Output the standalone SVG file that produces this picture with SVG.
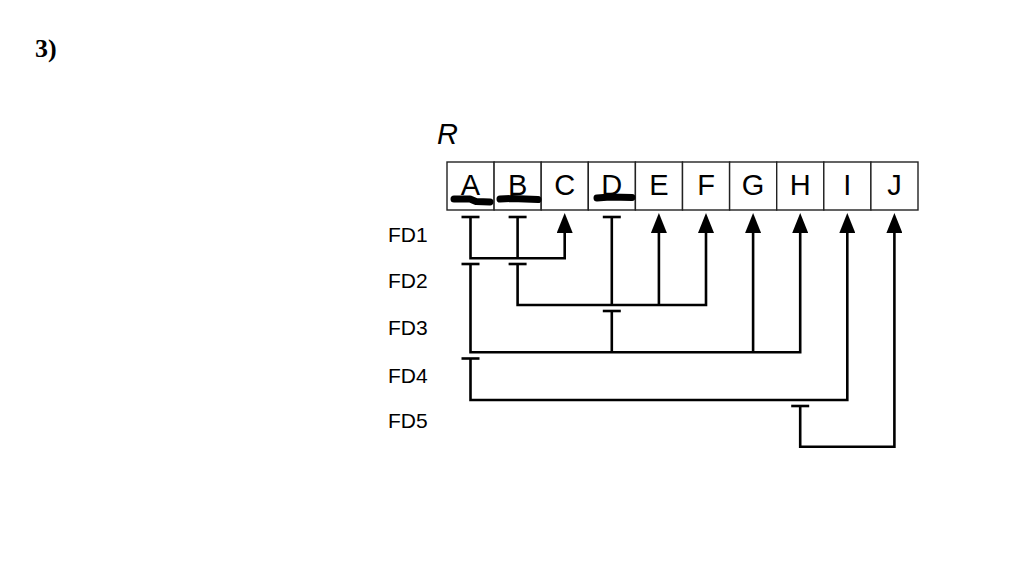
<svg xmlns="http://www.w3.org/2000/svg" width="1026" height="564" viewBox="0 0 1026 564">
<style>
.cell{fill:#fff;stroke:#222;stroke-width:1.4}
.attr{font-family:"Liberation Sans",Arial,sans-serif;font-size:29px;text-anchor:middle;fill:#000}
.fd{font-family:"Liberation Sans",Arial,sans-serif;font-size:21px;fill:#000}
.ln{fill:none;stroke:#000;stroke-width:2.6;stroke-linejoin:miter}
.tb{stroke:#000;stroke-width:2.6}
.ul{fill:none;stroke:#000;stroke-width:7;stroke-linecap:round;stroke-linejoin:round}
</style>
<defs>
<marker id="ah" viewBox="0 0 20 16" refX="0" refY="8" markerWidth="20" markerHeight="16" markerUnits="userSpaceOnUse" orient="auto">
<path d="M0 0 L20 8 L0 16 Z" fill="#000"/>
</marker>
</defs>
<rect width="1026" height="564" fill="#fff"/>
<text x="35" y="57" font-family="Liberation Serif,'Times New Roman',serif" font-size="26" font-weight="bold">3)</text>
<text x="437" y="144" font-family="Liberation Sans,Arial,sans-serif" font-size="29" font-style="italic">R</text>
<g id="relation">
<rect class="cell" x="447" y="162" width="47.1" height="48"/>
<rect class="cell" x="494.1" y="162" width="47.1" height="48"/>
<rect class="cell" x="541.2" y="162" width="47.1" height="48"/>
<rect class="cell" x="588.3" y="162" width="47.1" height="48"/>
<rect class="cell" x="635.4" y="162" width="47.1" height="48"/>
<rect class="cell" x="682.5" y="162" width="47.1" height="48"/>
<rect class="cell" x="729.6" y="162" width="47.1" height="48"/>
<rect class="cell" x="776.7" y="162" width="47.1" height="48"/>
<rect class="cell" x="823.8" y="162" width="47.1" height="48"/>
<rect class="cell" x="870.9" y="162" width="47.1" height="48"/>
<text class="attr" x="470.5" y="195">A</text>
<text class="attr" x="517.6" y="195">B</text>
<text class="attr" x="564.7" y="195">C</text>
<text class="attr" x="611.8" y="195">D</text>
<text class="attr" x="658.9" y="195">E</text>
<text class="attr" x="706" y="195">F</text>
<text class="attr" x="753.1" y="195">G</text>
<text class="attr" x="800.2" y="195">H</text>
<text class="attr" x="847.3" y="195">I</text>
<text class="attr" x="894.4" y="195">J</text>
<path class="ul" d="M454 199 L470 199 L476 201.5 L490 202"/>
<path class="ul" d="M500 199 L512 198.5 L538 199.5"/>
<path class="ul" d="M597 198 L610 197 L632 197.5"/>
</g>
<g id="labels">
<text class="fd" x="388" y="242">FD1</text>
<text class="fd" x="388" y="288">FD2</text>
<text class="fd" x="388" y="335">FD3</text>
<text class="fd" x="388" y="383">FD4</text>
<text class="fd" x="388" y="428">FD5</text>
</g>
<g id="connectors">
<line class="tb" x1="461.5" y1="217" x2="479.5" y2="217"/>
<line class="tb" x1="508.6" y1="217" x2="526.6" y2="217"/>
<path class="ln" d="M470.5 217 V258.3 H564.7 V233" marker-end="url(#ah)"/>
<line class="ln" x1="517.6" y1="217" x2="517.6" y2="258.3"/>
<line class="tb" x1="508.6" y1="264" x2="526.6" y2="264"/>
<line class="tb" x1="602.8" y1="217" x2="620.8" y2="217"/>
<path class="ln" d="M517.6 264 V305 H706 V233" marker-end="url(#ah)"/>
<line class="ln" x1="611.8" y1="217" x2="611.8" y2="305"/>
<path class="ln" d="M658.9 305 V233" marker-end="url(#ah)"/>
<line class="tb" x1="461.5" y1="264" x2="479.5" y2="264"/>
<line class="tb" x1="602.8" y1="311" x2="620.8" y2="311"/>
<path class="ln" d="M470.5 264 V352.3 H800.2 V233" marker-end="url(#ah)"/>
<line class="ln" x1="611.8" y1="311" x2="611.8" y2="352.3"/>
<path class="ln" d="M753.1 352.3 V233" marker-end="url(#ah)"/>
<line class="tb" x1="461.5" y1="358.5" x2="479.5" y2="358.5"/>
<path class="ln" d="M470.5 358.5 V400 H847.3 V233" marker-end="url(#ah)"/>
<line class="tb" x1="791.2" y1="406" x2="809.2" y2="406"/>
<path class="ln" d="M800.2 406 V446.7 H894.4 V233" marker-end="url(#ah)"/>
</g>
</svg>
